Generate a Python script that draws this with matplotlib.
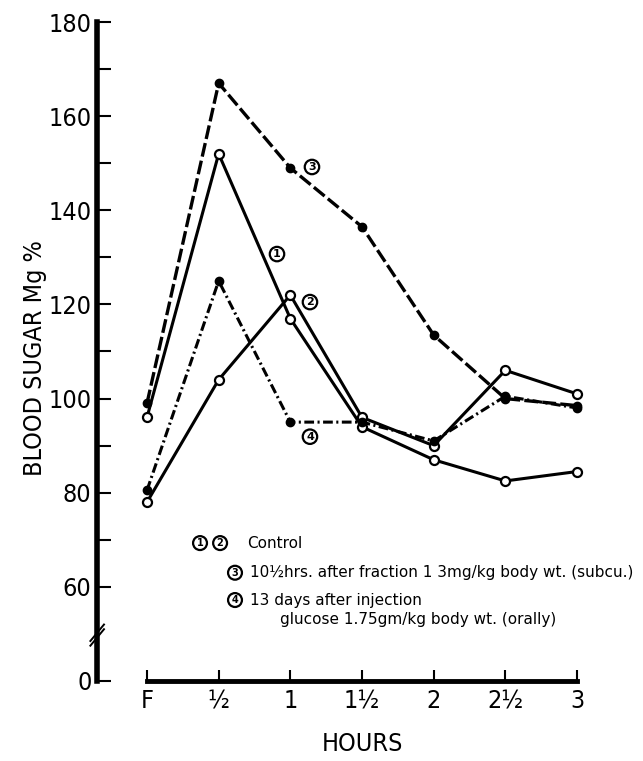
import matplotlib
matplotlib.use("Agg")
import matplotlib.pyplot as plt
from matplotlib import font_manager

# hours after glucose (F = fasting)
hours = [0, 0.5, 1, 1.5, 2, 2.5, 3]
hour_labels = ["F", "½", "1", "1½", "2", "2½", "3"]

# blood sugar, mg %
control_1 = [96, 152, 117, 94, 87, 82.5, 84.5]
control_2 = [78, 104, 122, 96, 90, 106, 101]
fraction_3 = [99, 167, 149, 136.5, 113.5, 100, 98.5]
after_13d = [80.5, 125, 95, 95, 91, 100.5, 98]

y_ticks = [40, 60, 70, 80, 90, 100, 110, 120, 130, 140, 150, 160, 170, 180]
y_labels = ["0", "60", "", "80", "", "100", "", "120", "", "140", "", "160", "", "180"]

plt.rcParams["lines.scale_dashes"] = False
names = sorted({f.name + " / " + f.stretch for f in font_manager.fontManager.ttflist})
print(names)

cond = dict(family="DejaVu Sans", stretch="condensed")

fig = plt.figure(figsize=(6.43, 7.61), dpi=100)
ax = fig.add_axes([97 / 643, 80 / 761, 523 / 643, 659 / 761])
ax.set_xlim(-0.3488, 3.3)
ax.set_ylim(40, 180)

open_kw = dict(marker="o", markersize=6.5, markerfacecolor="white",
               markeredgecolor="black", markeredgewidth=1.6, clip_on=False)
fill_kw = dict(marker="o", markersize=6, markerfacecolor="black",
               markeredgecolor="black", clip_on=False)

ax.plot(hours, control_1, color="black", lw=2.2, **open_kw)
ax.plot(hours, control_2, color="black", lw=2.2, **open_kw)
ax.plot(hours, fraction_3, color="black", lw=2.4, dashes=(10, 3), **fill_kw)
ax.plot(hours, after_13d, color="black", lw=2.2, dashes=(7, 2.5, 1.5, 2.5), **fill_kw)

# spines
for s in ["top", "right"]:
    ax.spines[s].set_visible(False)
ax.spines["left"].set_linewidth(4)
ax.spines["left"].set_bounds(40, 180)
ax.spines["bottom"].set_linewidth(3.5)
ax.spines["bottom"].set_bounds(0, 3)

ax.set_yticks(y_ticks)
ax.set_yticklabels(y_labels, fontsize=18, **cond)
ax.set_xticks(hours)
ax.set_xticklabels(hour_labels, fontsize=18, **cond)
ax.tick_params(axis="y", direction="in", length=10, width=1.5, pad=4)
ax.tick_params(axis="x", direction="in", length=8, width=1.5, pad=6)

# axis break marks on the y spine
for dy in (0, 1.0):
    ax.plot([-0.395, -0.30], [47.5 + dy, 51.0 + dy], color="black", lw=1.4, clip_on=False)

ax.set_ylabel("BLOOD SUGAR Mg %", fontsize=18, **cond)
ax.yaxis.set_label_coords(-0.096, 0.49)
ax.set_xlabel("HOURS", fontsize=18, **cond)
ax.xaxis.set_label_coords(0.507, -0.077)

circ = dict(boxstyle="circle,pad=0.2", fc="white", ec="black", lw=1.6)


def circled(x, y, s, size=8):
    ax.text(x, y, s, ha="center", va="center", fontsize=size, fontweight="bold",
            bbox=circ, clip_on=False)


# curve labels
circled(0.907, 130.7, "1")
circled(1.137, 120.5, "2")
circled(1.151, 149.2, "3")
circled(1.137, 91.9, "4")

# key
circled(0.37, 69.3, "1", 7)
circled(0.51, 69.3, "2", 7)
ax.text(0.70, 69.3, "Control", fontsize=11, va="center")
circled(0.614, 63.0, "3", 7)
ax.text(0.719, 63.0, "10½hrs. after fraction 1 3mg/kg body wt. (subcu.)", fontsize=11, va="center")
circled(0.614, 57.2, "4", 7)
ax.text(0.719, 57.2, "13 days after injection", fontsize=11, va="center")
ax.text(0.928, 53.0, "glucose 1.75gm/kg body wt. (orally)", fontsize=11, va="center")

fig.savefig("out.png", dpi=100)
